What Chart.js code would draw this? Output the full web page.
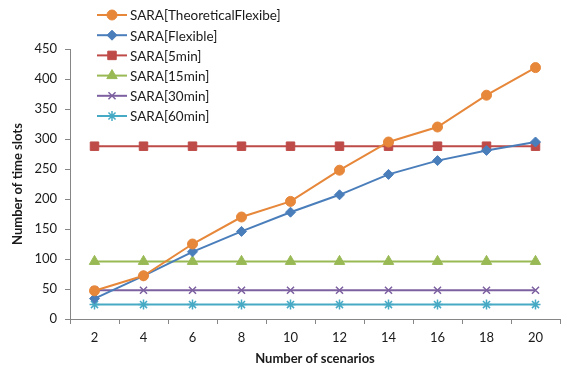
<!DOCTYPE html>
<html>
<head>
<meta charset="utf-8">
<script src="https://cdn.jsdelivr.net/npm/chart.js@4/dist/chart.umd.min.js"></script>
<style>
  html, body { margin: 0; padding: 0; background: #ffffff; }
  #wrap { width: 567px; height: 374px; }
</style>
</head>
<body>
<div id="wrap"><canvas id="c" width="567" height="374"></canvas></div>
<script>
// Scenario counts on the x axis
const scenarios = ['2', '4', '6', '8', '10', '12', '14', '16', '18', '20'];

// Number of time slots per strategy
const theoreticalFlexible = [47, 72, 125, 170, 196, 248, 295, 320, 373, 419];
const flexible = [34, 72, 112, 146, 178, 207, 241, 264, 281, 295];
const fixed5min = [288, 288, 288, 288, 288, 288, 288, 288, 288, 288];
const fixed15min = [96, 96, 96, 96, 96, 96, 96, 96, 96, 96];
const fixed30min = [48, 48, 48, 48, 48, 48, 48, 48, 48, 48];
const fixed60min = [24, 24, 24, 24, 24, 24, 24, 24, 24, 24];

const yTicks = [0, 50, 100, 150, 200, 250, 300, 350, 400, 450];

const FONT = 'Lato, "Open Sans", sans-serif';
const AXIS_GRAY = '#868686';

function series(label, data, color, style, radius) {
  return {
    label, data,
    borderColor: color,
    backgroundColor: color,
    pointBackgroundColor: color,
    pointBorderColor: color,
    pointStyle: style,
    pointRadius: radius,
    pointHoverRadius: radius,
    pointBorderWidth: (style === 'crossRot' || style === 'star') ? 1.5 : 1,
    borderWidth: 2,
    tension: 0,
    fill: false
  };
}

const datasets = [
  series('SARA[TheoreticalFlexibe]', theoreticalFlexible, '#E6873A', 'circle', 5),
  series('SARA[Flexible]', flexible, '#4A7EBB', 'rectRot', 5),
  series('SARA[5min]', fixed5min, '#BE4B48', 'rect', 6),
  series('SARA[15min]', fixed15min, '#98B954', 'triangle', 6),
  series('SARA[30min]', fixed30min, '#7D60A0', 'crossRot', 5),
  series('SARA[60min]', fixed60min, '#46AAC5', 'star', 5)
];

// Line-and-marker legend placed in the upper left, overlapping the plot top
const sideLegend = {
  id: 'sideLegend',
  afterDraw(chart) {
    const ctx = chart.ctx;
    const x0 = 97, x1 = 127, top = 15, step = 20.2;
    ctx.save();
    ctx.font = '13.5px ' + FONT;
    ctx.textBaseline = 'middle';
    ctx.textAlign = 'left';
    chart.data.datasets.forEach((ds, i) => {
      const y = top + i * step;
      ctx.strokeStyle = ds.borderColor;
      ctx.lineWidth = 2;
      ctx.beginPath();
      ctx.moveTo(x0, y);
      ctx.lineTo(x1, y);
      ctx.stroke();
      ctx.fillStyle = ds.pointBackgroundColor;
      ctx.strokeStyle = ds.pointBorderColor;
      ctx.lineWidth = ds.pointBorderWidth;
      Chart.helpers.drawPoint(ctx, {
        pointStyle: ds.pointStyle,
        radius: ds.pointRadius,
        rotation: 0,
        borderWidth: ds.pointBorderWidth
      }, (x0 + x1) / 2, y);
      ctx.fillStyle = '#1a1a1a';
      ctx.fillText(ds.label, 130, y + 1);
    });
    ctx.restore();
  }
};

new Chart(document.getElementById('c'), {
  type: 'line',
  data: { labels: scenarios, datasets },
  plugins: [sideLegend],
  options: {
    responsive: false,
    animation: false,
    layout: { padding: { left: 0, top: 49, right: 0, bottom: 0 } },
    plugins: {
      legend: { display: false },
      tooltip: { enabled: false }
    },
    scales: {
      x: {
        type: 'category',
        offset: true,
        grid: {
          offset: true,
          drawOnChartArea: false,
          drawTicks: true,
          tickLength: 5,
          color: AXIS_GRAY
        },
        border: { color: AXIS_GRAY, width: 1 },
        ticks: {
          color: '#1a1a1a',
          font: { family: FONT, size: 13 },
          padding: 6,
          maxRotation: 0
        },
        title: {
          display: true,
          text: 'Number of scenarios',
          color: '#1a1a1a',
          font: { family: FONT, size: 13, weight: 'bold' },
          padding: { top: 0, bottom: 7 }
        },
        afterFit(scale) { scale.height = 55; }
      },
      y: {
        min: 0,
        max: 450,
        afterBuildTicks(scale) { scale.ticks = yTicks.map(v => ({ value: v })); },
        grid: {
          drawOnChartArea: false,
          drawTicks: true,
          tickLength: 5,
          color: AXIS_GRAY
        },
        border: { color: AXIS_GRAY, width: 1 },
        ticks: {
          color: '#1a1a1a',
          font: { family: FONT, size: 13 },
          padding: 8
        },
        title: {
          display: true,
          text: 'Number of time slots',
          color: '#1a1a1a',
          font: { family: FONT, size: 13, weight: 'bold' },
          padding: { top: 10, bottom: 0 }
        },
        afterFit(scale) { scale.width = 70; }
      }
    }
  }
});
</script>
</body>
</html>
